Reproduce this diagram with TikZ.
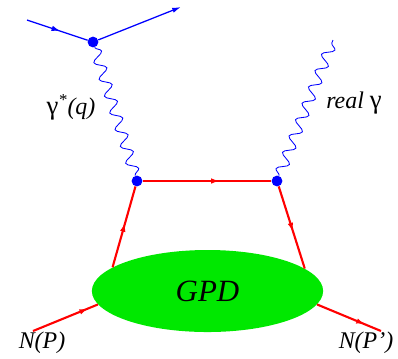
\documentclass[tikz,border=0pt]{standalone}
\usepackage{fontspec}
\setmainfont{Liberation Serif}
\usetikzlibrary{arrows.meta, shapes.geometric, decorations.pathmorphing, decorations.markings}
\definecolor{LineBlue}{RGB}{0, 0, 255}
\definecolor{LineRed}{RGB}{255, 0, 0}
\definecolor{BlobGreen}{RGB}{0, 232, 0}

\begin{document}
\begin{tikzpicture}[x=0.025cm, y=-0.025cm,
  vtx/.style={circle, fill=LineBlue, inner sep=0, minimum size=0.27cm},
  electron/.style={LineBlue, line width=0.9pt},
  photon/.style={LineBlue, line width=0.6pt, decorate, decoration={snake, amplitude=3.9pt, segment length=12.5pt}},
  quark/.style={LineRed, line width=1.5pt},
  midarrow/.style={postaction={decorate}, decoration={markings, mark=at position #1 with {\arrow{Latex[length=2.2mm,width=1.4mm]}}}},
  lbl/.style={font=\fontsize{17}{20}\selectfont\itshape}]
\useasboundingbox (0,0) rectangle (398,358);
\node[ellipse, fill=BlobGreen, minimum width=5.78cm, minimum height=2.05cm, inner sep=0, font=\fontsize{22}{26}\selectfont\itshape] (gpd) at (207.5,291) {GPD};
\node[vtx] (v1) at (93,42) {};
\node[vtx] (v2) at (137,181) {};
\node[vtx] (v3) at (277,181) {};
\coordinate (ein) at (27,20);
\coordinate (eout) at (181,7);
\coordinate (gend) at (333,40);
\coordinate (pin) at (33,331);
\coordinate (pout) at (381,331);
\draw[electron, midarrow=0.55] (ein) -- (v1);
\draw[electron, -{Latex[length=2.2mm,width=1.3mm]}] (v1) -- (eout);
\draw[photon] (v1) -- (v2);
\draw[photon] (v3) -- (gend);
\draw[quark, midarrow=0.6] (v2) -- (v3);
\draw[quark, midarrow=0.55] (gpd.166.5) -- (v2);
\draw[quark, midarrow=0.55] (v3) -- (gpd.13.7);
\draw[quark, midarrow=0.85] (pin) -- (gpd.187.2);
\draw[quark, midarrow=0.75] (gpd.-7.3) -- (pout);
\node[lbl] (lvirt) at (71,107) {{\upshape\fontsize{19}{20}\selectfont γ}\textsuperscript{*}(q)};
\node[lbl] (lreal) at (354,103) {real~{\upshape\fontsize{19}{20}\selectfont γ}};
\node[lbl] (lin) at (42,343) {N(P)};
\node[lbl] (lout) at (366,343) {N(P’)};
\end{tikzpicture}
\end{document}
